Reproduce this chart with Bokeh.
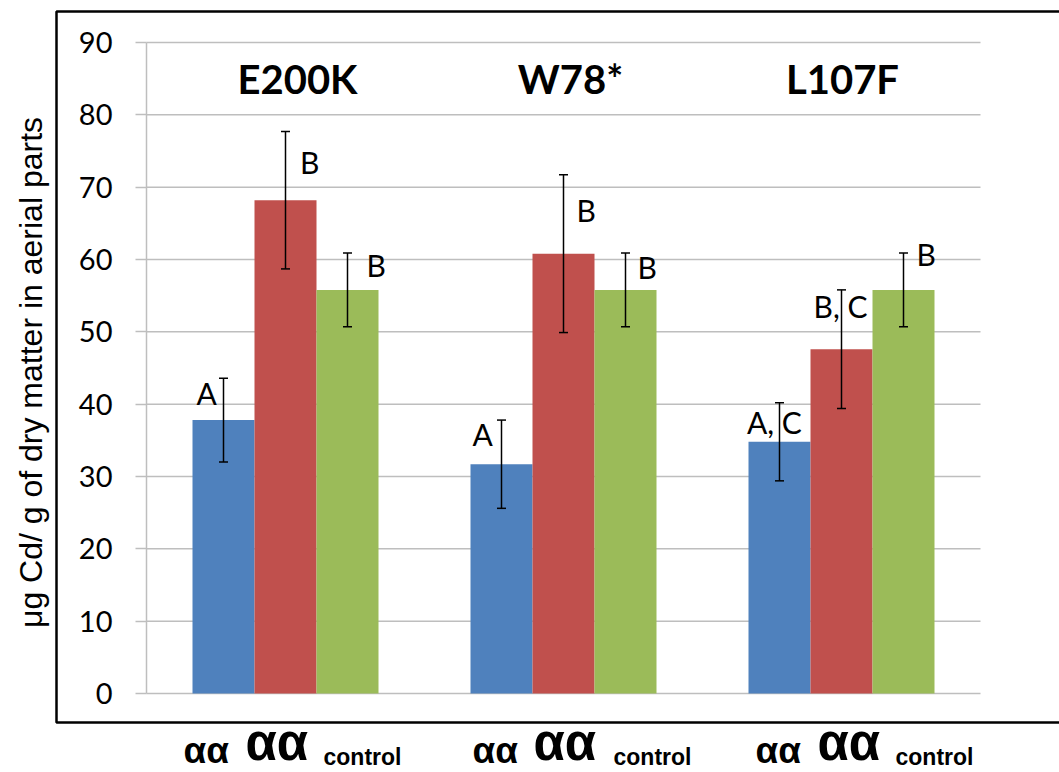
import math
from bokeh.plotting import figure
from bokeh.models import ColumnDataSource, Label, BoxAnnotation, FixedTicker, Range1d
from bokeh.core.properties import value
from bokeh.embed import file_html
from bokeh.resources import INLINE

# ---------------- data ----------------
groups = ["E200K", "W78*", "L107F"]
blue_vals = [37.8, 31.7, 34.8]
red_vals = [68.2, 60.8, 47.6]
green_vals = [55.8, 55.8, 55.8]
blue_err = [5.8, 6.1, 5.4]
red_err = [9.5, 10.9, 8.2]
green_err = [5.1, 5.1, 5.1]
blue_sig = ["A", "A", "A, C"]
red_sig = ["B", "B", "B, C"]
green_sig = ["B", "B", "B"]
x_small = "αα"
x_big = "αα"
x_ctrl = "control"
y_ticks = [0, 10, 20, 30, 40, 50, 60, 70, 80, 90]
y_label = "μg Cd/ g of dry matter in aerial parts"

BLUE, RED, GREEN = "#4F81BD", "#C0504D", "#9BBB59"
GRID = "#BEBEBE"

# ---------------- layout (pixels) ----------------
W, H = 1059, 772
PL, PR, PT, PB = 146, 980, 42, 693       # plotting area in canvas px
PX_X = (PR - PL) / 3.0
PX_Y = (PB - PT) / 90.0
BW = 62 / PX_X
BASE_FIX = 0.42   # renderer places the alphabetic baseline ~0.42em low

x_rng = Range1d(-PL / PX_X, (W - PL) / PX_X)
y_rng = Range1d(-(H - PB) / PX_Y, 90 + PT / PX_Y)

p = figure(width=W, height=H, min_border=0,
           x_range=x_rng, y_range=y_rng,
           output_backend="svg", toolbar_location=None)
p.background_fill_color = "white"
p.border_fill_color = "white"
p.outline_line_color = None
p.xaxis.visible = False
p.xgrid.visible = False
p.ygrid.visible = False

ax = p.yaxis[0]
ax.fixed_location = 0
ax.bounds = (0, 90)
ax.ticker = FixedTicker(ticks=y_ticks)
ax.axis_line_color = GRID
ax.axis_line_width = 1.5
ax.major_tick_line_color = GRID
ax.major_tick_line_width = 1.5
ax.major_tick_in = 0
ax.major_tick_out = 11
ax.minor_tick_line_color = None
ax.major_label_standoff = 23
ax.major_label_text_font = "Lato"
ax.major_label_text_font_size = "29px"
ax.major_label_text_color = "black"

# horizontal gridlines at the y ticks, across the plotting area
gsrc = ColumnDataSource(dict(x0=[0] * len(y_ticks), x1=[3] * len(y_ticks),
                             y=y_ticks))
p.segment(x0="x0", y0="y", x1="x1", y1="y", source=gsrc,
          line_color=GRID, line_width=1.5)

series = [(blue_vals, blue_err, blue_sig, BLUE, -1),
          (red_vals, red_err, red_sig, RED, 0),
          (green_vals, green_err, green_sig, GREEN, 1)]

# letter offsets in px relative to (bar centre, top of error bar)
sig_offsets = {
    -1: [(-27, 27), (-29, 27), (-32.5, 32)],
    0: [(14.5, 43), (13, 48), (-28, 29)],
    1: [(19, 25), (12, 27), (13, 14)],
}
CAP = 4.5 / PX_X
SIG_SIZE = 30

for vals, errs, sigs, col, k in series:
    xs = [i + 0.5 + k * BW for i in range(len(groups))]
    up = [v + e for v, e in zip(vals, errs)]
    lo = [v - e for v, e in zip(vals, errs)]
    src = ColumnDataSource(dict(x=xs, top=vals, upper=up, lower=lo,
                                cl=[x - CAP for x in xs], cr=[x + CAP for x in xs]))
    p.vbar(x="x", top="top", width=BW, bottom=0, source=src,
           fill_color=col, line_color=None)
    p.segment(x0="x", y0="lower", x1="x", y1="upper", source=src,
              line_color="black", line_width=1.5)
    p.segment(x0="cl", y0="upper", x1="cr", y1="upper", source=src,
              line_color="black", line_width=1.5)
    p.segment(x0="cl", y0="lower", x1="cr", y1="lower", source=src,
              line_color="black", line_width=1.5)
    offs = sig_offsets[k]
    tx = [x + o[0] / PX_X for x, o in zip(xs, offs)]
    ty = [u - (o[1] - BASE_FIX * SIG_SIZE) / PX_Y for u, o in zip(up, offs)]
    lsrc = ColumnDataSource(dict(x=tx, y=ty, t=sigs))
    p.text(x="x", y="y", text="t", source=lsrc, text_font=value("Lato"),
           text_font_size=f"{SIG_SIZE}px", text_color="black",
           text_align="left", text_baseline="alphabetic")

# group titles
title_off = [12, 7, 1]
TITLE_SIZE = 40
tsrc = ColumnDataSource(dict(
    x=[i + 0.5 + title_off[i] / PX_X for i in range(len(groups))],
    y=[90 - (53 - BASE_FIX * TITLE_SIZE) / PX_Y] * len(groups), t=groups))
p.text(x="x", y="y", text="t", source=tsrc, text_font=value("Lato"),
       text_font_style="bold", text_font_size=f"{TITLE_SIZE}px", text_color="black",
       text_align="center", text_baseline="alphabetic")

# outer border box (as in the original figure)
p.add_layout(BoxAnnotation(left=-(PL - 56) / PX_X, right=3 + 200 / PX_X,
                           top=90 + (PT - 11) / PX_Y, bottom=-(722 - PB) / PX_Y,
                           fill_alpha=0, line_color="black", line_alpha=1.0,
                           line_width=2.5))

# y axis title
p.add_layout(Label(x=-(PL - 30) / PX_X, y=(PB - 372) / PX_Y, text=y_label,
                   angle=math.pi / 2, text_align="center", text_baseline="middle",
                   text_font="Liberation Sans", text_font_size="32px",
                   text_color="black"))

# category labels below the box
small_off = [-102, -91, -86]
big_off = [-40, -30, -24]
ctrl_off = [38, 50, 54]
for i in range(len(groups)):
    c = i + 0.5
    for txt, off, size, base in ((x_small, small_off[i], 37, 766),
                                 (x_big, big_off[i], 51, 763),
                                 (x_ctrl, ctrl_off[i], 23, 766)):
        p.add_layout(Label(x=c + off / PX_X,
                           y=-(base - BASE_FIX * size - PB) / PX_Y, text=txt,
                           text_align="left", text_baseline="alphabetic",
                           text_font="Liberation Sans", text_font_style="bold",
                           text_font_size=f"{size}px", text_color="black"))

open("out.html", "w").write(file_html(p, INLINE))
